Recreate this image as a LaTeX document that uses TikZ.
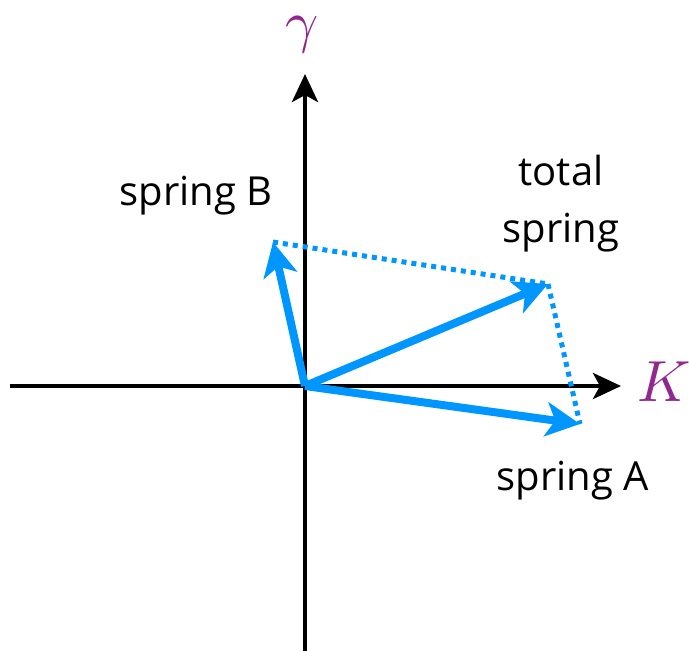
\documentclass[tikz,border=0pt]{standalone}
\usepackage{fontspec}
\setmainfont{Open Sans}
\usetikzlibrary{arrows.meta}
\definecolor{vecblue}{RGB}{0,150,255}
\definecolor{axpurple}{RGB}{146,39,143}
\begin{document}
\begin{tikzpicture}[x=1pt,y=-1pt,
  axis/.style={line width=4.5pt,black,-{Stealth[length=28pt,width=26pt,inset=7pt]}},
  vec/.style={line width=8pt,vecblue,-{Stealth[length=34pt,width=34pt,inset=9pt]}},
  dotline/.style={line width=5pt,vecblue,dash pattern=on 5pt off 5pt},
  lbl/.style={font=\fontsize{40}{57}\selectfont,align=center,inner sep=0pt},
  axlbl/.style={scale=5.8,text=axpurple,inner sep=0pt}]
\useasboundingbox (0,0) rectangle (689,651);
\coordinate (O) at (305,386);
\coordinate (A) at (580,424);
\coordinate (B) at (273,242);
\coordinate (T) at (548,284);
\coordinate (xl) at (10,386);
\coordinate (xr) at (621,386);
\coordinate (yb) at (305,651);
\coordinate (yt) at (305,74);
\draw[axis] (xl) -- (xr);
\draw[axis] (yb) -- (yt);
\draw[dotline] (B) -- (T);
\draw[dotline] (T) -- (A);
\draw[vec] (O) -- (A);
\draw[vec] (O) -- (B);
\draw[vec] (O) -- (T);
\node[axlbl] (g) at (302,35) {$\gamma$};
\node[axlbl] (k) at (664,382) {$K$};
\node[lbl,anchor=base] (sb) at (196,205) {spring B};
\node[lbl,anchor=base] (ts) at (561,242) {total\\spring};
\node[lbl,anchor=base] (sa) at (573,490) {spring A};
\end{tikzpicture}
\end{document}
